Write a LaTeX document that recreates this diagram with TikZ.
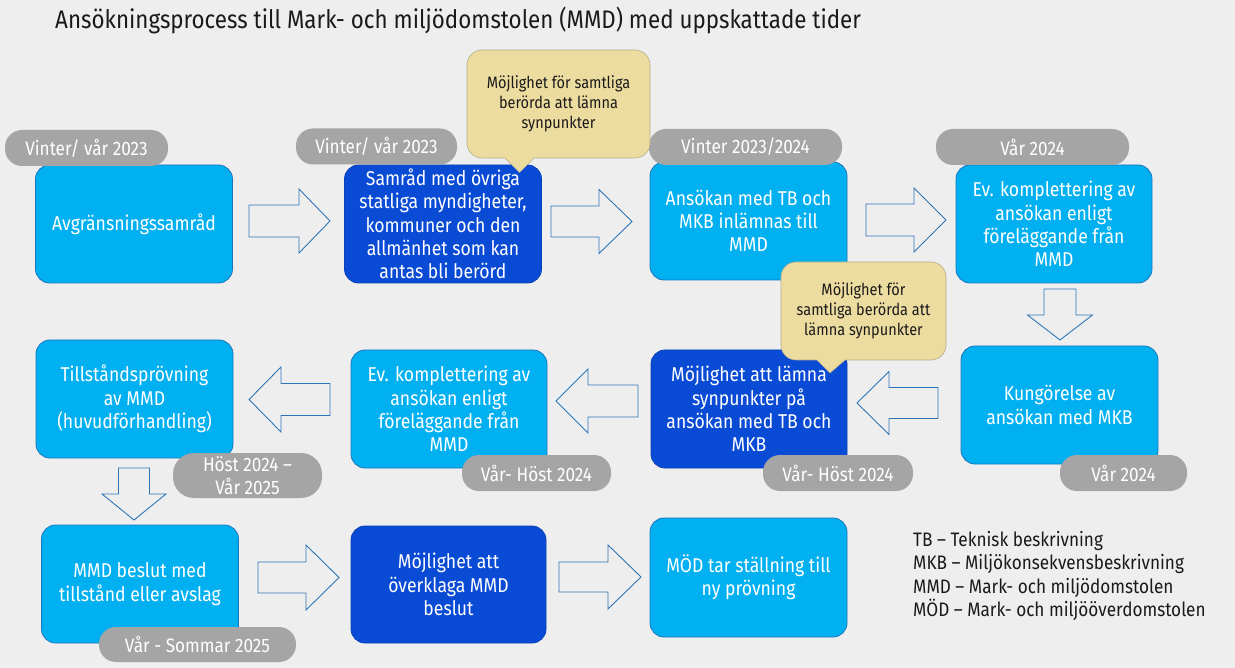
\documentclass[tikz,border=0pt]{standalone}
\usepackage{fontspec}
\setmainfont{Fira Sans}[FakeStretch=0.88]
\definecolor{bg}{HTML}{EEEEEE}
\definecolor{lblue}{HTML}{00B0F0}
\definecolor{dblue}{HTML}{0A4BD6}
\definecolor{bord}{HTML}{1C75BC}
\definecolor{tagc}{HTML}{A5A5A5}
\definecolor{bub}{HTML}{EDDCA0}
\definecolor{bubb}{HTML}{B5AB8A}
\definecolor{arr}{HTML}{2E75B6}
\definecolor{ink}{HTML}{1A1A1A}
\newcommand\ArrR[6]{\draw[barrow] ({#1},{#4-#5}) -- ({#2},{#4-#5}) -- ({#2},{#4-#6}) -- ({#3},{#4}) -- ({#2},{#4+#6}) -- ({#2},{#4+#5}) -- ({#1},{#4+#5}) -- cycle;}
\newcommand\ArrD[6]{\draw[barrow] ({#4-#5},{#1}) -- ({#4-#5},{#2}) -- ({#4-#6},{#2}) -- ({#4},{#3}) -- ({#4+#6},{#2}) -- ({#4+#5},{#2}) -- ({#4+#5},{#1}) -- cycle;}
\begin{document}
\begin{tikzpicture}[x=1pt,y=-1pt,
  box/.style={draw=bord, line width=0.8pt, rounded corners=14pt, minimum width=197pt, minimum height=118pt, text=white, align=center, font=\fontsize{20}{23.3}\selectfont, inner sep=0pt},
  lbox/.style={box, fill=lblue},
  dbox/.style={box, fill=dblue, draw=dblue!85!black},
  tag/.style={fill=tagc, rounded corners=17pt, minimum height=36pt, text=white, align=center, font=\fontsize{19.5}{23}\selectfont, inner sep=0pt},
  bubble/.style={fill=bub, draw=bubb, line width=0.6pt, rounded corners=15pt, align=center, text=ink, font=\fontsize{16.5}{20}\selectfont, inner sep=0pt},
  barrow/.style={draw=arr, fill=bg, line width=0.9pt, line join=miter},
  leg/.style={anchor=base west, text=ink, font=\fontsize{19.5}{23.5}\selectfont, inner sep=0pt}
]
\useasboundingbox (0,0) rectangle (1235,668);
\fill[bg] (0,0) rectangle (1235,668);

% title
\node[anchor=west, text=ink, font=\fontsize{25.4}{29}\selectfont, inner sep=0pt] (title) at (55,20) {Ansökningsprocess till Mark- och miljödomstolen (MMD) med uppskattade tider};

% boxes
\node[lbox] (b1) at (134,224) {Avgränsningssamråd};
\node[dbox] (b2) at (443,224) {Samråd med övriga\\statliga myndigheter,\\kommuner och den\\allmänhet som kan\\antas bli berörd};
\node[lbox] (b3) at (748.5,221) {Ansökan med TB och\\MKB inlämnas till\\MMD};
\node[lbox, minimum width=196pt] (b4) at (1054,224) {Ev. komplettering av\\ansökan enligt\\föreläggande från\\MMD};
\node[lbox] (b5) at (1059.5,405) {Kungörelse av\\ansökan med MKB};
\node[dbox, minimum width=196pt] (b6) at (749,409) {Möjlighet att lämna\\synpunkter på\\ansökan med TB och\\MKB};
\node[lbox, minimum width=196pt] (b7) at (449,409) {Ev. komplettering av\\ansökan enligt\\föreläggande från\\MMD};
\node[lbox] (b8) at (134.5,399) {Tillståndsprövning\\av MMD\\(huvudförhandling)};
\node[lbox] (b10) at (140,584) {MMD beslut med\\tillstånd eller avslag};
\node[dbox, minimum width=195pt, minimum height=117pt] (b11) at (448.5,584.5) {Möjlighet att\\överklaga MMD\\beslut};
\node[lbox, minimum height=119pt] (b9) at (748.5,577.5) {MÖD tar ställning till\\ny prövning};

% tags
\node[tag, minimum width=163pt] (t1) at (86.5,148) {Vinter/ vår 2023};
\node[tag, minimum width=161pt] (t2) at (376.5,146.5) {Vinter/ vår 2023};
\node[tag, minimum width=193pt] (t3) at (745.5,147) {Vinter 2023/2024};
\node[tag, minimum width=193pt] (t4) at (1032.5,147) {Vår 2024};
\node[tag, minimum width=127pt] (t5) at (1123.5,473) {Vår 2024};
\node[tag, minimum width=150pt] (t6) at (838,473) {Vår- Höst 2024};
\node[tag, minimum width=149pt] (t7) at (536.5,473) {Vår- Höst 2024};
\node[tag, minimum width=149pt, minimum height=45pt, rounded corners=21pt] (t8) at (247.5,475.5) {Höst 2024 –\\Vår 2025};
\node[tag, minimum width=197pt, minimum height=35pt] (t9) at (197.5,644.5) {Vår - Sommar 2025};

% bubbles
\node[bubble, minimum width=183pt, minimum height=108pt] (bub1) at (558.5,104) {Möjlighet för samtliga\\berörda att lämna\\synpunkter};
\fill[bub] (503.5,156.8) -- (519.5,172.5) -- (535.5,156.8) -- cycle;
\draw[bubb, line width=0.6pt, line join=round] (505,158) -- (519.5,172.5) -- (534,158);
\node[bubble, minimum width=165pt, minimum height=98pt] (bub2) at (863.5,311) {Möjlighet för\\samtliga berörda att\\lämna synpunkter};
\fill[bub] (815.5,358.8) -- (830,373) -- (846.5,358.8) -- cycle;
\draw[bubb, line width=0.6pt, line join=round] (817,360) -- (830,373) -- (845,360);

% block arrows
\ArrR{249}{299}{330}{221}{16}{32}
\ArrR{551}{599}{632}{221.5}{15.5}{32}
\ArrR{866}{914}{946}{220}{16}{32}
\ArrD{289}{315}{340}{1060}{16}{32.5}
\ArrR{938}{889}{857}{403}{15.5}{31.5}
\ArrR{638}{588}{556}{401}{16}{32}
\ArrR{330}{281}{249}{399.5}{16}{32.5}
\ArrD{468}{494}{520}{134}{15.5}{32}
\ArrR{258}{306}{339}{577.5}{15.5}{32.5}
\ArrR{559}{608}{641}{577}{15}{32}

% legend
\node[leg] (leg1) at (913,546) {TB – Teknisk beskrivning};
\node[leg] (leg2) at (913,569.5) {MKB – Miljökonsekvensbeskrivning};
\node[leg] (leg3) at (913,593) {MMD – Mark- och miljödomstolen};
\node[leg] (leg4) at (913,616.5) {MÖD – Mark- och miljööverdomstolen};
\end{tikzpicture}
\end{document}
